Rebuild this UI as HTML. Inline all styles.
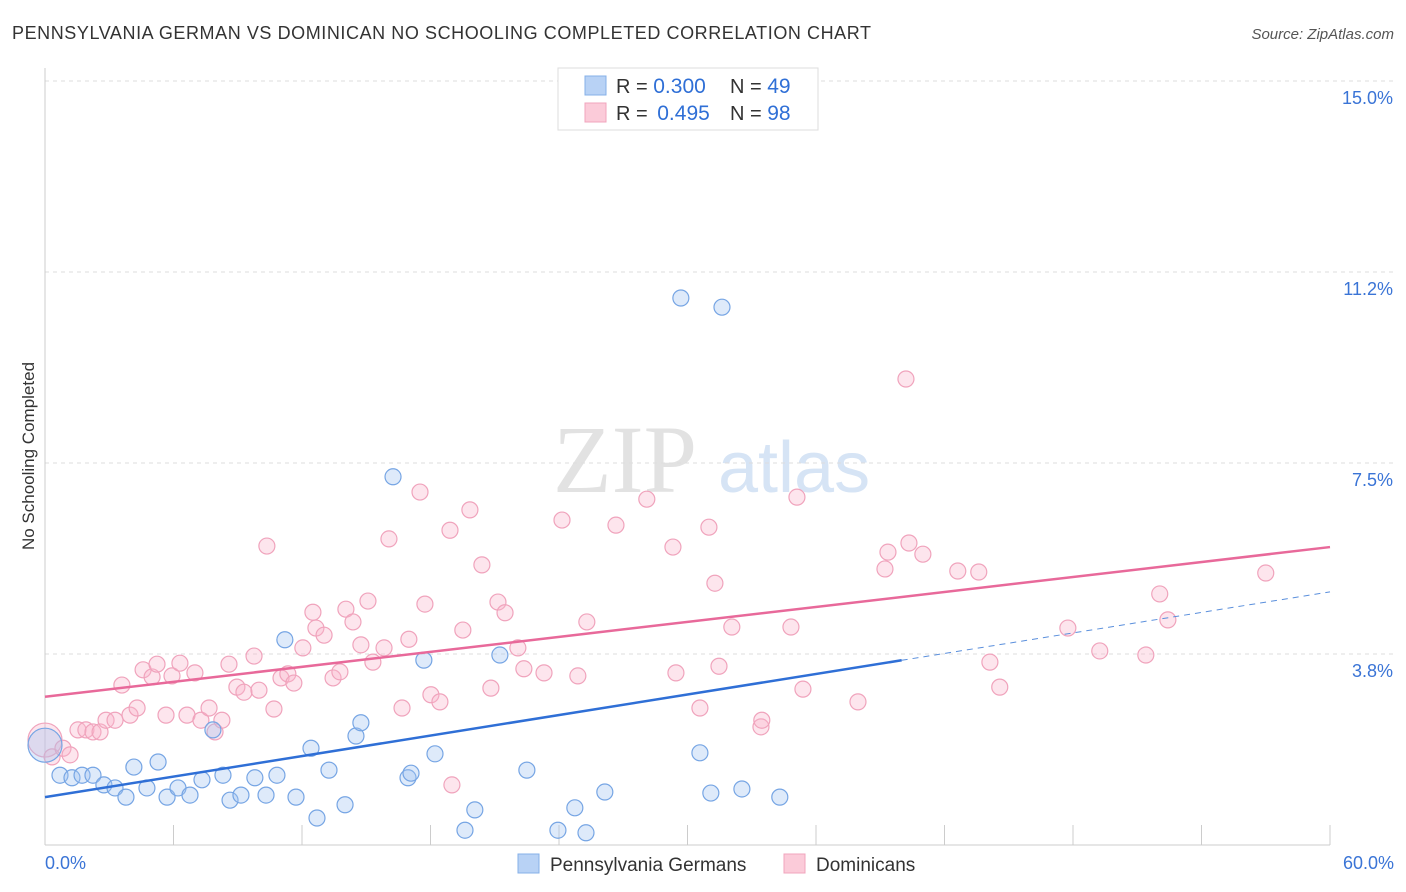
<!DOCTYPE html>
<html><head><meta charset="utf-8"><style>
body{margin:0;background:#fff;font-family:"Liberation Sans",sans-serif;}
svg{display:block}
</style></head><body>
<svg width="1406" height="892" id="chart">
<text x="12" y="39" font-size="18" fill="#333" textLength="859" lengthAdjust="spacing">PENNSYLVANIA GERMAN VS DOMINICAN NO SCHOOLING COMPLETED CORRELATION CHART</text>
<text x="1394" y="39" font-size="15" fill="#555" text-anchor="end" font-style="italic">Source: ZipAtlas.com</text>
<text x="34" y="456" font-size="17" fill="#333" text-anchor="middle" transform="rotate(-90 34 456)">No Schooling Completed</text>
<g><text x="553" y="492" font-size="96" fill="#e2e2e2" font-family="Liberation Serif,serif">ZIP</text><text x="718" y="492" font-size="72" fill="#d6e4f5">atlas</text></g>
<g id="grid"></g><g id="xt"></g><g id="pts"></g><g id="lines"></g>
<g>
<rect x="558" y="68" width="260" height="62" fill="#fff" stroke="#ddd"/>
<rect x="585" y="76" width="21" height="19" fill="#b8d2f5" stroke="#86b0e8"/>
<rect x="585" y="103" width="21" height="19" fill="#fbcbd9" stroke="#f0a5bd"/>
<text x="616" y="93" font-size="20" fill="#333">R = <tspan fill="#2f6fd6" font-size="21">0.300</tspan><tspan x="730">N = </tspan><tspan fill="#2f6fd6" font-size="21">49</tspan></text>
<text x="616" y="120" font-size="20" fill="#333">R = <tspan fill="#2f6fd6" dx="4" font-size="21">0.495</tspan><tspan x="730">N = </tspan><tspan fill="#2f6fd6" font-size="21">98</tspan></text>
</g>
<g>
<rect x="518" y="854" width="21" height="19" fill="#b8d2f5" stroke="#86b0e8"/>
<text x="550" y="871" font-size="19" fill="#333">Pennsylvania Germans</text>
<rect x="784" y="854" width="21" height="19" fill="#fbcbd9" stroke="#f0a5bd"/>
<text x="816" y="871" font-size="19" fill="#333">Dominicans</text>
</g>
</svg>
<script>
const yTicks=[3.75,7.5,11.25,15];
const yTickLabels=["3.8%","7.5%","11.2%","15.0%"];
const blueX=[0,0.70,1.26,1.73,2.24,2.75,3.27,3.78,4.15,4.76,5.28,5.70,6.21,6.77,7.33,7.84,8.31,8.64,9.15,9.80,10.32,10.83,11.20,11.72,12.42,12.70,13.26,14.01,14.52,14.75,16.25,16.95,17.09,17.69,18.21,19.61,20.07,21.24,22.50,23.95,24.74,25.26,26.14,29.69,30.58,31.09,31.61,32.54,34.31];
const blueY=[1.96,1.37,1.32,1.37,1.37,1.18,1.12,0.94,1.53,1.12,1.63,0.94,1.12,0.98,1.28,2.26,1.37,0.88,0.98,1.32,0.98,1.37,4.03,0.94,1.90,0.53,1.47,0.79,2.14,2.40,7.23,1.32,1.41,3.63,1.79,0.29,0.69,3.73,1.47,0.29,0.73,0.24,1.04,10.74,1.81,1.02,10.56,1.10,0.94];
const pinkX=[0,0.33,0.84,1.17,1.54,1.91,2.24,2.57,2.85,3.27,3.59,3.97,4.30,4.58,5.00,5.23,5.65,5.93,6.30,6.63,7.00,7.28,7.66,7.94,8.26,8.59,8.96,9.29,9.76,9.99,10.36,10.69,11.02,11.34,11.62,12.04,12.51,12.65,13.03,13.45,13.77,14.05,14.38,14.75,15.08,15.31,15.83,16.06,16.67,16.99,17.51,17.74,18.02,18.44,18.91,19.00,19.51,19.84,20.40,20.82,21.15,21.48,22.08,22.36,23.30,24.14,24.88,25.30,26.66,28.10,29.32,29.46,30.58,31.00,31.28,31.47,32.07,33.43,33.47,34.83,35.11,35.39,37.96,39.22,39.36,40.20,40.34,40.99,42.62,43.60,44.12,44.58,47.76,49.25,51.40,52.05,52.43,57.00];
const pinkY=[2.06,1.73,1.90,1.77,2.26,2.26,2.22,2.22,2.45,2.45,3.14,2.55,2.69,3.44,3.30,3.55,2.55,3.32,3.57,2.55,3.38,2.45,2.69,2.22,2.45,3.55,3.10,3.00,3.71,3.04,5.87,2.67,3.28,3.36,3.18,3.87,4.57,4.26,4.12,3.28,3.40,4.63,4.38,3.93,4.79,3.59,3.87,6.01,2.69,4.04,6.93,4.73,2.95,2.81,6.18,1.18,4.22,6.58,5.50,3.08,4.77,4.56,3.87,3.46,3.38,6.38,3.32,4.38,6.28,6.79,5.85,3.38,2.69,6.24,5.14,3.51,4.28,2.32,2.45,4.28,6.83,3.06,2.81,5.42,5.75,9.15,5.93,5.71,5.38,5.36,3.59,3.10,4.26,3.81,3.73,4.93,4.42,5.34];
const blueTrend=[0.94,4.97], blueSolidEnd=40;
const pinkTrend=[2.91,5.85];
const NS="http://www.w3.org/2000/svg";
const sx=v=>45+v*(1285/60), sy=v=>845-v*50.93;
function mk(t,a,p){const e=document.createElementNS(NS,t);for(const k in a)e.setAttribute(k,a[k]);p.appendChild(e);return e;}
const grid=document.getElementById('grid');
yTicks.forEach((t,i)=>{
 const l=mk('line',{x1:45,x2:1394,y1:sy(t),y2:sy(t),stroke:'#ddd','stroke-dasharray':'4,4'},grid);
 
 
 const tx=mk('text',{x:1393,y:sy(t)+23,'font-size':18,fill:'#3a74d6','text-anchor':'end'},grid);
 tx.textContent=yTickLabels[i];
 
 
});
const xt=document.getElementById('xt');
mk('line',{x1:45,x2:45,y1:68,y2:845,stroke:'#ccc'},xt);
mk('line',{x1:45,x2:1330,y1:845,y2:845,stroke:'#ccc'},xt);
for(let i=1;i<=10;i++){const t=mk('line',{x1:sx(i*6),x2:sx(i*6),y1:825,y2:845,stroke:'#ccc'},xt);}
const x0=mk('text',{x:45,y:869,'font-size':18,fill:'#3a74d6'},xt);x0.textContent='0.0%';


const x1=mk('text',{x:1394,y:869,'font-size':18,fill:'#3a74d6','text-anchor':'end'},xt);x1.textContent='60.0%';


const pts=document.getElementById('pts');
function series(X,Y,fill,stroke,name){X.forEach((x,i)=>{const r=(x===0)?17:8;
 const c=mk('circle',{cx:sx(x),cy:sy(Y[i]),r:r,fill:fill,stroke:stroke,'stroke-width':1.2},pts);
 
 });}
series(pinkX,pinkY,'rgba(248,180,202,0.35)','#f0a3bc','dominican-point');
series(blueX,blueY,'rgba(160,196,240,0.35)','#76a5e4','pennsylvania-german-point');
const ln=document.getElementById('lines');
const bf=x=>blueTrend[0]+(blueTrend[1]-blueTrend[0])*x/60, pf=x=>pinkTrend[0]+(pinkTrend[1]-pinkTrend[0])*x/60;
const b1=mk('line',{x1:sx(0),y1:sy(bf(0)),x2:sx(blueSolidEnd),y2:sy(bf(blueSolidEnd)),stroke:'#2f6fd6','stroke-width':2.5},ln);


const b2=mk('line',{x1:sx(blueSolidEnd),y1:sy(bf(blueSolidEnd)),x2:sx(60),y2:sy(bf(60)),stroke:'#5a8fdc','stroke-width':1,'stroke-dasharray':'6,5'},ln);


const p1=mk('line',{x1:sx(0),y1:sy(pf(0)),x2:sx(60),y2:sy(pf(60)),stroke:'#e8699a','stroke-width':2.5},ln);


</script>
</body></html>
